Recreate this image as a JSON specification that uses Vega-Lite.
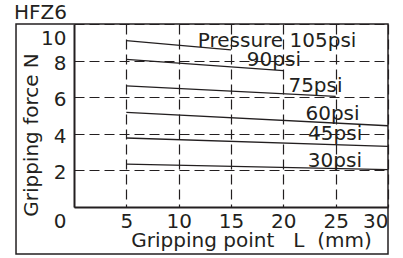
{
  "$schema": "https://vega.github.io/schema/vega-lite/v6.json",
  "width": 314,
  "height": 183,
  "autosize": {"type": "none"},
  "padding": {"left": 74, "top": 24, "right": 15, "bottom": 51},
  "background": "white",
  "title": {"text": "HFZ6", "anchor": "start", "frame": "group", "dx": -60, "dy": 16, "offset": 0, "baseline": "alphabetic", "fontSize": 20, "fontWeight": "normal", "font": "DejaVu Sans", "color": "#231f20"},
  "config": {"view": {"stroke": null}, "font": "DejaVu Sans", "axis": {"labelOverlap": false}},
  "datasets": {
    "frame": [{"x0": -5.54, "x1": 30, "y0": -2.57, "y1": 10}],
    "curves": [
      {"L": 5, "F": 9.09, "p": "105psi"}, {"L": 15, "F": 8.59, "p": "105psi"},
      {"L": 5, "F": 8.07, "p": "90psi"}, {"L": 20, "F": 7.45, "p": "90psi"},
      {"L": 5, "F": 6.62, "p": "75psi"}, {"L": 25, "F": 6.04, "p": "75psi"},
      {"L": 5, "F": 5.17, "p": "60psi"}, {"L": 30, "F": 4.44, "p": "60psi"},
      {"L": 5, "F": 3.77, "p": "45psi"}, {"L": 30, "F": 3.31, "p": "45psi"},
      {"L": 5, "F": 2.34, "p": "30psi"}, {"L": 30, "F": 2.04, "p": "30psi"}
    ],
    "labels": [
      {"L": 19.4, "F": 8.76, "t": "Pressure 105psi"},
      {"L": 19.1, "F": 7.68, "t": "90psi"},
      {"L": 23.07, "F": 6.3, "t": "75psi"},
      {"L": 24.7, "F": 4.75, "t": "60psi"},
      {"L": 24.95, "F": 3.66, "t": "45psi"},
      {"L": 24.93, "F": 2.2, "t": "30psi"}
    ]
  },
  "layer": [
    {
      "data": {"name": "curves"},
      "mark": {"type": "line", "color": "#231f20", "strokeWidth": 1.3},
      "encoding": {
        "x": {
          "field": "L", "type": "quantitative",
          "scale": {"domain": [0, 30], "nice": false, "zero": false},
          "axis": {
            "values": [5, 10, 15, 20, 25, 30], "tickCount": 12,
            "title": "Gripping point\u00a0\u00a0\u00a0L\u00a0\u00a0(mm)",
            "titleX": 177, "titleY": 39.5, "titleAlign": "center", "titleBaseline": "alphabetic",
            "titleFont": "DejaVu Sans", "titleFontSize": 20, "titleFontWeight": "normal", "titleColor": "#231f20",
            "labelFont": "DejaVu Sans", "labelFontSize": 20, "labelColor": "#231f20", "labelPadding": 4,
            "labelFlush": true, "labelOverlap": false,
            "ticks": false, "grid": true, "gridDash": [10, 5], "gridColor": "#231f20", "gridWidth": 1.2, "gridOpacity": 1,
            "domainColor": "#231f20", "domainWidth": 2
          }
        },
        "y": {
          "field": "F", "type": "quantitative",
          "scale": {"domain": [0, 10], "nice": false},
          "axis": {
            "values": [0, 2, 4, 6, 8, 10], "tickCount": 12,
            "title": "Gripping force N",
            "titleX": -36.4, "titleY": 110.5, "titleAngle": -90, "titleAlign": "center", "titleBaseline": "alphabetic",
            "titleFont": "DejaVu Sans", "titleFontSize": 20, "titleFontWeight": "normal", "titleColor": "#231f20",
            "labelFont": "DejaVu Sans", "labelFontSize": 20, "labelColor": "#231f20", "labelPadding": 8,
            "labelFlush": false, "labelOverlap": false, "labelBaseline": "middle",
            "labelOffset": {"condition": {"test": "datum.value == 0 || datum.value == 10", "value": 14}, "value": 2.5},
            "ticks": false, "grid": true, "gridDash": [10, 5], "gridColor": "#231f20", "gridWidth": 1.2, "gridOpacity": 1,
            "domainColor": "#231f20", "domainWidth": 2
          }
        },
        "detail": {"field": "p", "type": "nominal"}
      }
    },
    {
      "data": {"name": "frame"},
      "mark": {"type": "rect", "filled": false, "stroke": "#231f20", "strokeWidth": 1.5},
      "encoding": {
        "x": {"field": "x0", "type": "quantitative"},
        "x2": {"field": "x1"},
        "y": {"field": "y0", "type": "quantitative"},
        "y2": {"field": "y1"}
      }
    },
    {
      "data": {"name": "labels"},
      "mark": {"type": "text", "align": "center", "baseline": "alphabetic", "font": "DejaVu Sans", "fontSize": 20, "color": "#231f20"},
      "encoding": {
        "x": {"field": "L", "type": "quantitative"},
        "y": {"field": "F", "type": "quantitative"},
        "text": {"field": "t"}
      }
    }
  ]
}
